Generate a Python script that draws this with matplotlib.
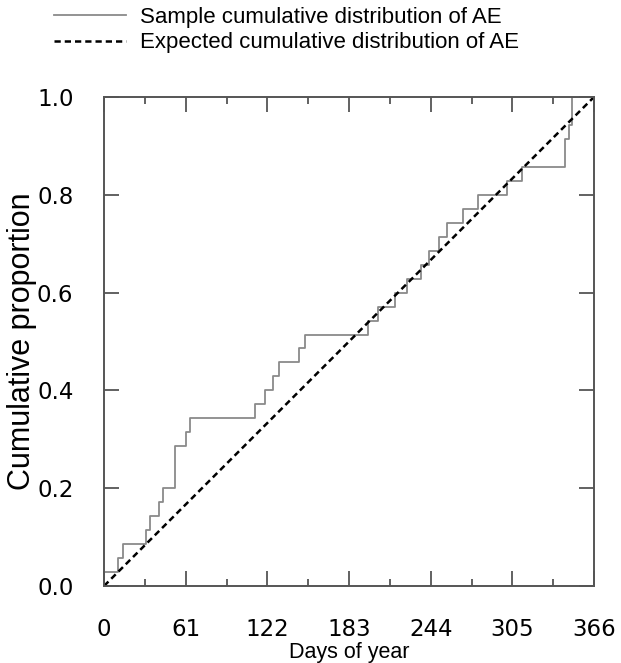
import numpy as np
import matplotlib
matplotlib.use('Agg')
import matplotlib.pyplot as plt

# days of year at which each adverse event occurred (35 events)
event_days = [0, 10.5, 14, 31, 34, 41, 44, 53, 53, 53, 61, 64,
              113, 120.5, 126, 131, 146, 150, 197, 205, 217, 226,
              237, 243, 250, 256, 268, 279.5, 301, 312, 344, 344,
              347, 349.5, 349.5]
expected_x = [0, 366]
expected_y = [0, 1]
xticks = [0, 61, 122, 183, 244, 305, 366]
yticks = [0.0, 0.2, 0.4, 0.6, 0.8, 1.0]

plt.rcParams['font.family'] = ['Liberation Sans', 'DejaVu Sans']

n = len(event_days)
xs = np.array(event_days + [366])
ys = np.append(np.arange(1, n + 1) / n, 1.0)

fig = plt.figure(figsize=(6.21, 6.63), dpi=100)
ax = fig.add_axes([104/621, 77/663, 490/621, 489/663])

ax.step(xs, ys, where='post', color='#8a8a8a', lw=1.3,
        label='Sample cumulative distribution of AE')
ax.plot(expected_x, expected_y, color='black', lw=1.8, ls=(0, (2.5, 1.6)),
        label='Expected cumulative distribution of AE')

ax.set_xlim(0, 366)
ax.set_ylim(0, 1)
ax.set_xticks(xticks)
ax.set_xticks([30.5 + 61*i for i in range(6)], minor=True)
ax.set_yticks(yticks)
ax.set_yticklabels(['%.1f' % v for v in yticks])
ax.tick_params(which='both', direction='in', top=True, right=True,
               color='#555555', width=1.3)
ax.tick_params(which='major', length=11)
ax.tick_params(which='minor', length=5)
ax.tick_params(axis='x', pad=23)
ax.tick_params(axis='y', pad=22)
for lab in ax.get_xticklabels() + ax.get_yticklabels():
    lab.set_family('DejaVu Sans')
    lab.set_fontsize(16.5)
for s in ax.spines.values():
    s.set_color('#555555')
    s.set_linewidth(1.4)

ax.set_xlabel('Days of year', fontsize=15.5)
ax.xaxis.label.set_va('baseline')
ax.xaxis.set_label_coords(0.5, -0.147)
ax.set_ylabel('Cumulative proportion', fontsize=22)
ax.yaxis.set_label_coords(-0.136, 0.5)

fig.legend(loc='upper left', bbox_to_anchor=(54/621, 1 - 7/663),
           frameon=False, fontsize=16, handlelength=3.25,
           handletextpad=0.62, labelspacing=0.2, borderpad=0,
           borderaxespad=0)

fig.savefig('out.png', dpi=100)
